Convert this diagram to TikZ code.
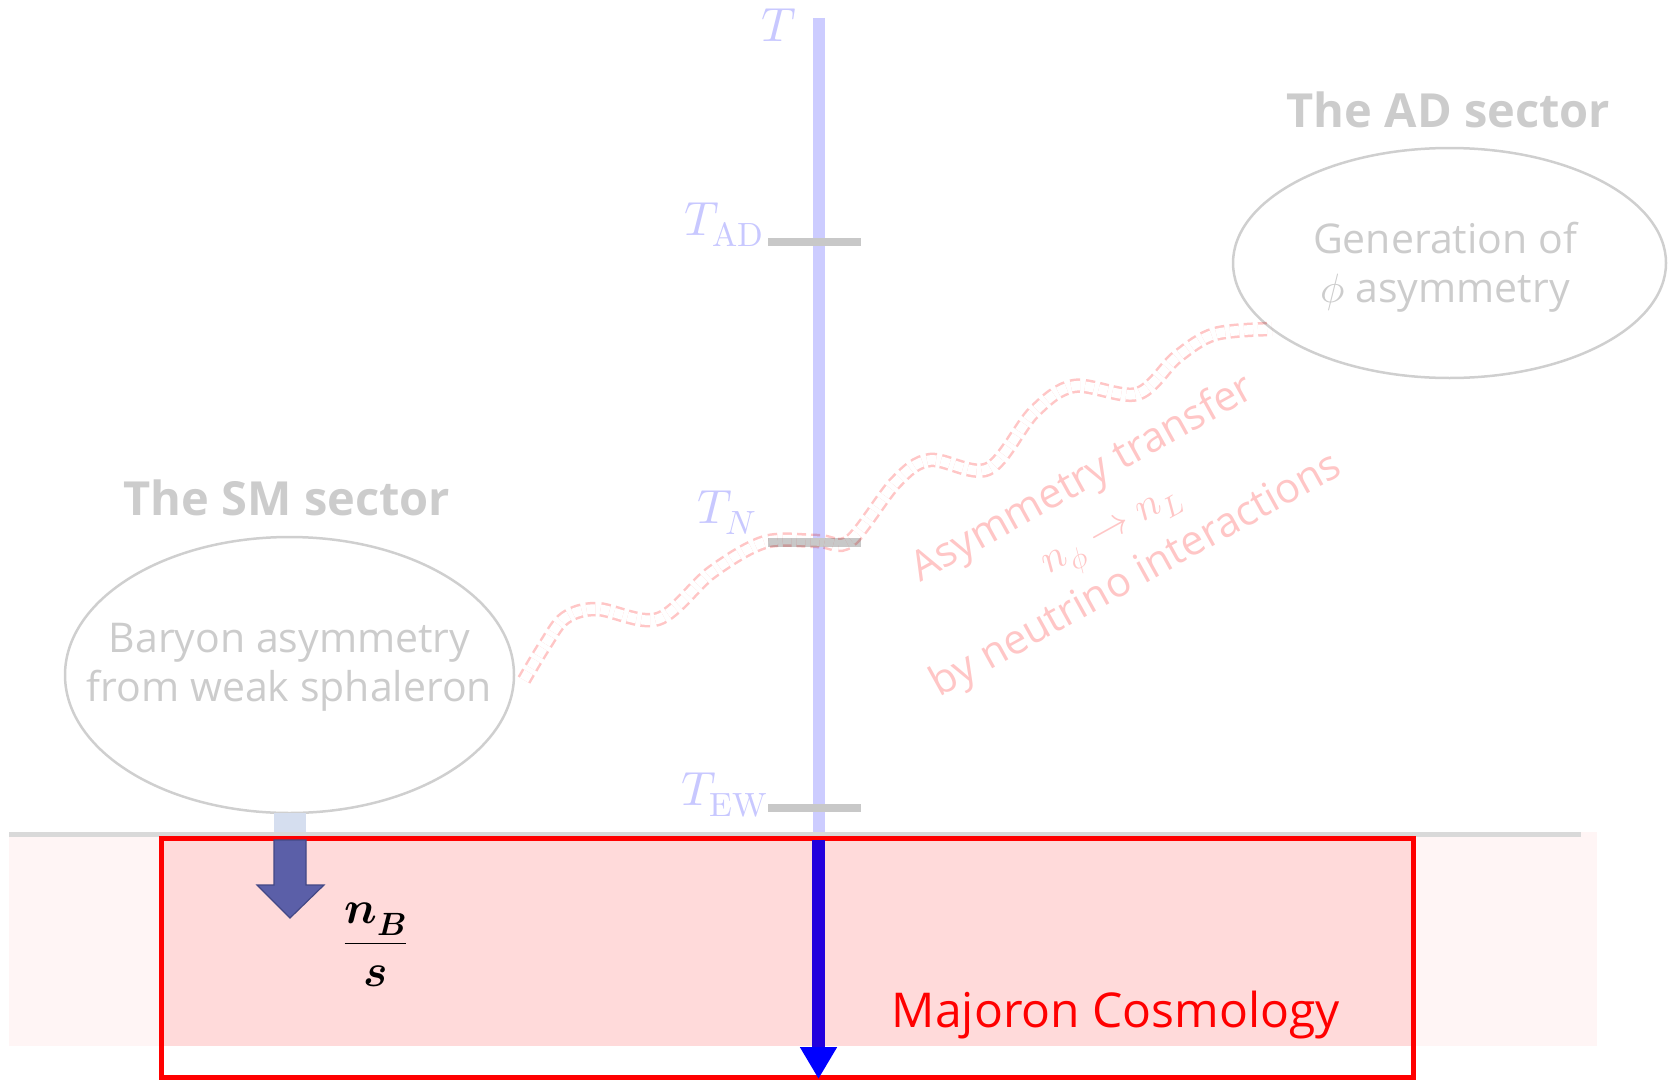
\documentclass[tikz,border=0pt]{standalone}
\usepackage{fontspec}
\usepackage{unicode-math}
\setmainfont{Open Sans}
\setmathfont{Latin Modern Math}
\usetikzlibrary{arrows.meta,shapes.geometric}
\definecolor{barc}{HTML}{CCCCFF}
\definecolor{tickc}{HTML}{C8C8C8}
\definecolor{labc}{HTML}{C8C8FF}
\definecolor{greyt}{HTML}{CCCCCC}
\definecolor{ellc}{HTML}{CFCFCF}
\definecolor{wavec}{HTML}{FFC6C6}
\definecolor{bandc}{HTML}{FFF5F5}
\definecolor{pinkc}{HTML}{FFDADA}
\definecolor{darkar}{HTML}{5B5FA8}
\definecolor{darkarl}{HTML}{434885}
\definecolor{lightar}{HTML}{D5DEEF}
\definecolor{shaftc}{HTML}{2200DD}
\definecolor{sepc}{HTML}{D9D9D9}
\begin{document}
\begin{tikzpicture}[x=1pt,y=-1pt,
  tickbar/.style={fill=tickc, draw=none, minimum width=93pt, minimum height=8.5pt, inner sep=0pt},
  tlabel/.style={text=labc, font=\fontsize{48}{50}\selectfont, inner sep=0pt},
  sector/.style={ellipse, draw=ellc, line width=2.5pt, inner sep=0pt},
  title/.style={text=greyt, font=\fontsize{47}{50}\selectfont\bfseries, inner sep=0pt},
  etext/.style={text=greyt, align=center, font=\fontsize{41}{49}\selectfont, inner sep=0pt}]
\useasboundingbox (0,0) rectangle (1675,1081);
% lower band
\fill[bandc] (9,832) rectangle (1597,1046);
\fill[pinkc] (161,838) rectangle (1413,1046);
\draw[sepc, line width=5pt] (9,834.5) -- (1581,834.5);
\draw[red, line width=5pt] (161,838.5) rectangle (1413,1077);
% temperature axis
\coordinate (ttop) at (818.5,18);
\coordinate (tbot) at (818.5,832);
\draw[barc, line width=12pt] (ttop) -- (tbot);
\node[tickbar] (tickad) at (814.5,242) {};
\node[tickbar] (tickn) at (814.5,542.5) {};
\node[tickbar] (tickew) at (814.5,808) {};
\node[tlabel, anchor=base west] (lt) at (761,42) {$T$};
\node[tlabel, anchor=base east] (lad) at (764,235) {$T_{\symup{AD}}$};
\node[tlabel, anchor=base west] (ln) at (697,523) {$T_N$};
\node[tlabel, anchor=base east] (lew) at (768,805) {$T_{\symup{EW}}$};
% blue arrow
\coordinate (ba) at (818.5,840);
\coordinate (bb) at (818.5,1079);
\draw[shaftc, line width=13pt, -{Triangle[width=35pt,length=32pt,color=blue]}] (ba) -- (bb);
% sectors
\node[sector, minimum width=449pt, minimum height=276pt] (sm) at (289.5,675) {};
\node[sector, minimum width=433pt, minimum height=230pt] (ad) at (1449.5,263) {};
\node[title, anchor=base] (smtitle) at (287,515) {The SM sector};
\node[title, anchor=base] (adtitle) at (1448.5,127) {The AD sector};
\node[etext] (smtext) at (289.5,667) {Baryon asymmetry\\from weak sphaleron};
\node[etext] (adtext) at (1445,267) {Generation of\\$\phi$ asymmetry};
% wavy transfer
\coordinate (w0) at (524,680);
\coordinate (w1) at (1272,329);
\begin{scope}[transparency group, blend mode=multiply]
\draw[wavec, line width=2.5pt, dash pattern=on 9pt off 5pt, double=white, double distance=9.5pt]
  plot[smooth, tension=0.55] coordinates {(w0) (545,645) (565,618) (597,609) (658,619) (712,572) (765,542) (818,541) (850,541) (896,482) (930,460) (988,469) (1034,412) (1074,386) (1137,394) (1177,357) (1215,334) (w1)};
\end{scope}
\node[rotate=29, align=center, text=wavec, font=\fontsize{41.5}{55}\selectfont, inner sep=0pt] (transfer) at (1110,528)
  {Asymmetry transfer\\$n_\phi\rightarrow n_L$\\by neutrino interactions};
% SM output arrow
\fill[lightar] (274,813) rectangle (306,832);
\draw[darkarl, fill=darkar, line width=1.2pt] (274,840) -- (306,840) -- (306,885) -- (324,885) -- (290,918) -- (257,885) -- (274,885) -- cycle;
\node[anchor=base, font=\fontsize{46}{50}\selectfont, inner sep=0pt] (ratio) at (375.5,955) {$\displaystyle\frac{\symbfit{n}_{\symbfit{B}}}{\symbfit{s}}$};
\node[anchor=base, text=red, font=\fontsize{48}{50}\selectfont, inner sep=0pt] (maj) at (1116,1027) {Majoron Cosmology};
\end{tikzpicture}
\end{document}
